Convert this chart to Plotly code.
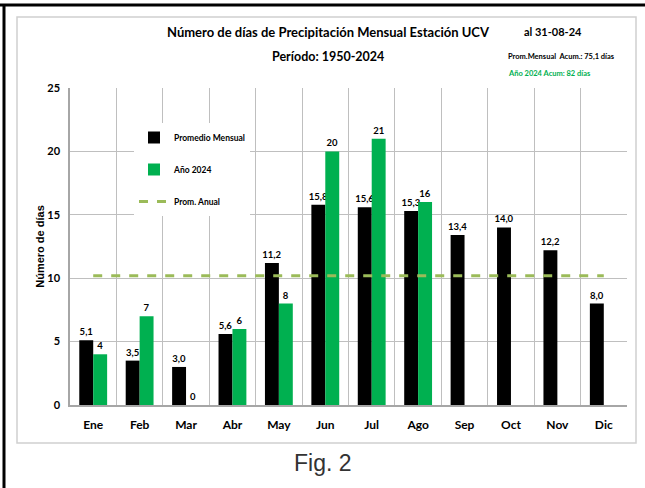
import plotly.graph_objects as go

months = ["Ene", "Feb", "Mar", "Abr", "May", "Jun", "Jul", "Ago", "Sep", "Oct", "Nov", "Dic"]
prom_mensual = [5.1, 3.5, 3.0, 5.6, 11.2, 15.8, 15.6, 15.3, 13.4, 14.0, 12.2, 8.0]
anio_2024 = [4, 7, 0, 6, 8, 20, 21, 16]
prom_anual = 10.2
y_ticks = [0, 5, 10, 15, 20, 25]

W, H = 645, 488
L, R, T, B = 70, 18, 88, 83
PW, PH = W - L - R, H - T - B


def px(x):
    return (x - L) / PW


def py(y):
    return (H - B - y) / PH


FONT = "Lato, sans-serif"
GREEN = "#00B050"

fig = go.Figure()
fig.add_trace(go.Bar(
    x=months, y=prom_mensual, name="Promedio Mensual",
    marker=dict(color="black", line=dict(width=0)),
    text=[f"{v:.1f}".replace(".", ",") for v in prom_mensual],
    textposition="outside", cliponaxis=False, constraintext="none",
    textfont=dict(family=FONT, size=9.5, color="black", weight="bold"),
    legendgroup="a",
))
fig.add_trace(go.Bar(
    x=months[:len(anio_2024)], y=anio_2024, name="Año 2024",
    marker=dict(color=GREEN, line=dict(width=0)),
    text=[str(v) for v in anio_2024],
    textposition="outside", cliponaxis=False, constraintext="none",
    textfont=dict(family=FONT, size=9.5, color="black", weight="bold"),
    legendgroup="b",
))
fig.add_trace(go.Scatter(
    x=months, y=[prom_anual] * len(months), name="Prom. Anual",
    mode="lines", line=dict(color="#9BBB59", width=3, dash="dash"),
    legendgroup="c",
))

fig.update_layout(
    width=W, height=H,
    margin=dict(l=L, r=R, t=T, b=B, autoexpand=False),
    paper_bgcolor="white", plot_bgcolor="white",
    barmode="group", bargap=0.4, bargroupgap=0,
    font=dict(family=FONT, color="black"),
    showlegend=True,
    legend=dict(
        x=px(134), y=py(123), xanchor="left", yanchor="top",
        bgcolor="white", borderwidth=0,
        font=dict(family=FONT, size=8.5, color="black", weight="bold"),
        tracegroupgap=13, traceorder="grouped",
        itemwidth=30,
    ),
    xaxis=dict(
        automargin=False,
        tickson="boundaries", showgrid=True, gridcolor="#BFBFBF", gridwidth=1,
        showline=True, linecolor="#A6A6A6", linewidth=1.5,
        ticks="", tickfont=dict(family=FONT, size=12, color="black", weight="bold"),
        ticklabelstandoff=8,
    ),
    yaxis=dict(
        automargin=False,
        range=[0, 25], tickvals=y_ticks, showgrid=True, gridcolor="#BFBFBF", gridwidth=1,
        showline=True, linecolor="#A6A6A6", linewidth=1.5,
        ticks="outside", ticklen=6, tickcolor="rgba(0,0,0,0)",
        tickfont=dict(family=FONT, size=11, color="black", weight="bold"),
        zeroline=False,
        title=dict(text="Número de días", standoff=0,
                   font=dict(family="Liberation Sans, Arial, sans-serif", size=11, color="black", weight="bold")),
    ),
    shapes=[
        dict(type="rect", xref="paper", yref="paper",
             x0=px(17), x1=px(636), y0=py(443), y1=py(17),
             line=dict(color="#D0D0D0", width=1.5), layer="below"),
        dict(type="line", xref="paper", yref="paper",
             x0=px(4), x1=px(4), y0=py(488), y1=py(4),
             line=dict(color="black", width=3)),
        dict(type="line", xref="paper", yref="paper",
             x0=px(0), x1=px(645), y0=py(5), y1=py(5),
             line=dict(color="black", width=3)),
    ],
    annotations=[
        dict(text="Número de días de Precipitación Mensual Estación UCV", xref="paper", yref="paper",
             x=px(328), y=py(32), showarrow=False, xanchor="center", yanchor="middle",
             font=dict(family=FONT, size=13, color="black", weight="bold")),
        dict(text="Período: 1950-2024", xref="paper", yref="paper",
             x=px(328), y=py(57), showarrow=False, xanchor="center", yanchor="middle",
             font=dict(family=FONT, size=12.5, color="black", weight="bold")),
        dict(text="al 31-08-24", xref="paper", yref="paper",
             x=px(553), y=py(32), showarrow=False, xanchor="center", yanchor="middle",
             font=dict(family=FONT, size=11, color="black", weight="bold")),
        dict(text="Prom.Mensual  Acum.: 75,1 días", xref="paper", yref="paper",
             x=px(506), y=py(57), showarrow=False, xanchor="left", yanchor="middle",
             font=dict(family=FONT, size=7.5, color="black", weight="bold")),
        dict(text="Año 2024 Acum: 82 días", xref="paper", yref="paper",
             x=px(506), y=py(73), showarrow=False, xanchor="left", yanchor="middle",
             font=dict(family=FONT, size=7.5, color=GREEN, weight="bold")),
        dict(text="Fig. 2", xref="paper", yref="paper",
             x=px(323), y=py(463), showarrow=False, xanchor="center", yanchor="middle",
             font=dict(family="Liberation Sans, Arial, sans-serif", size=23, color="#333333")),
    ],
)

fig.write_html("out.html", config={"displayModeBar": False},
               post_script="document.body.style.margin='0';document.body.style.overflow='hidden';")
